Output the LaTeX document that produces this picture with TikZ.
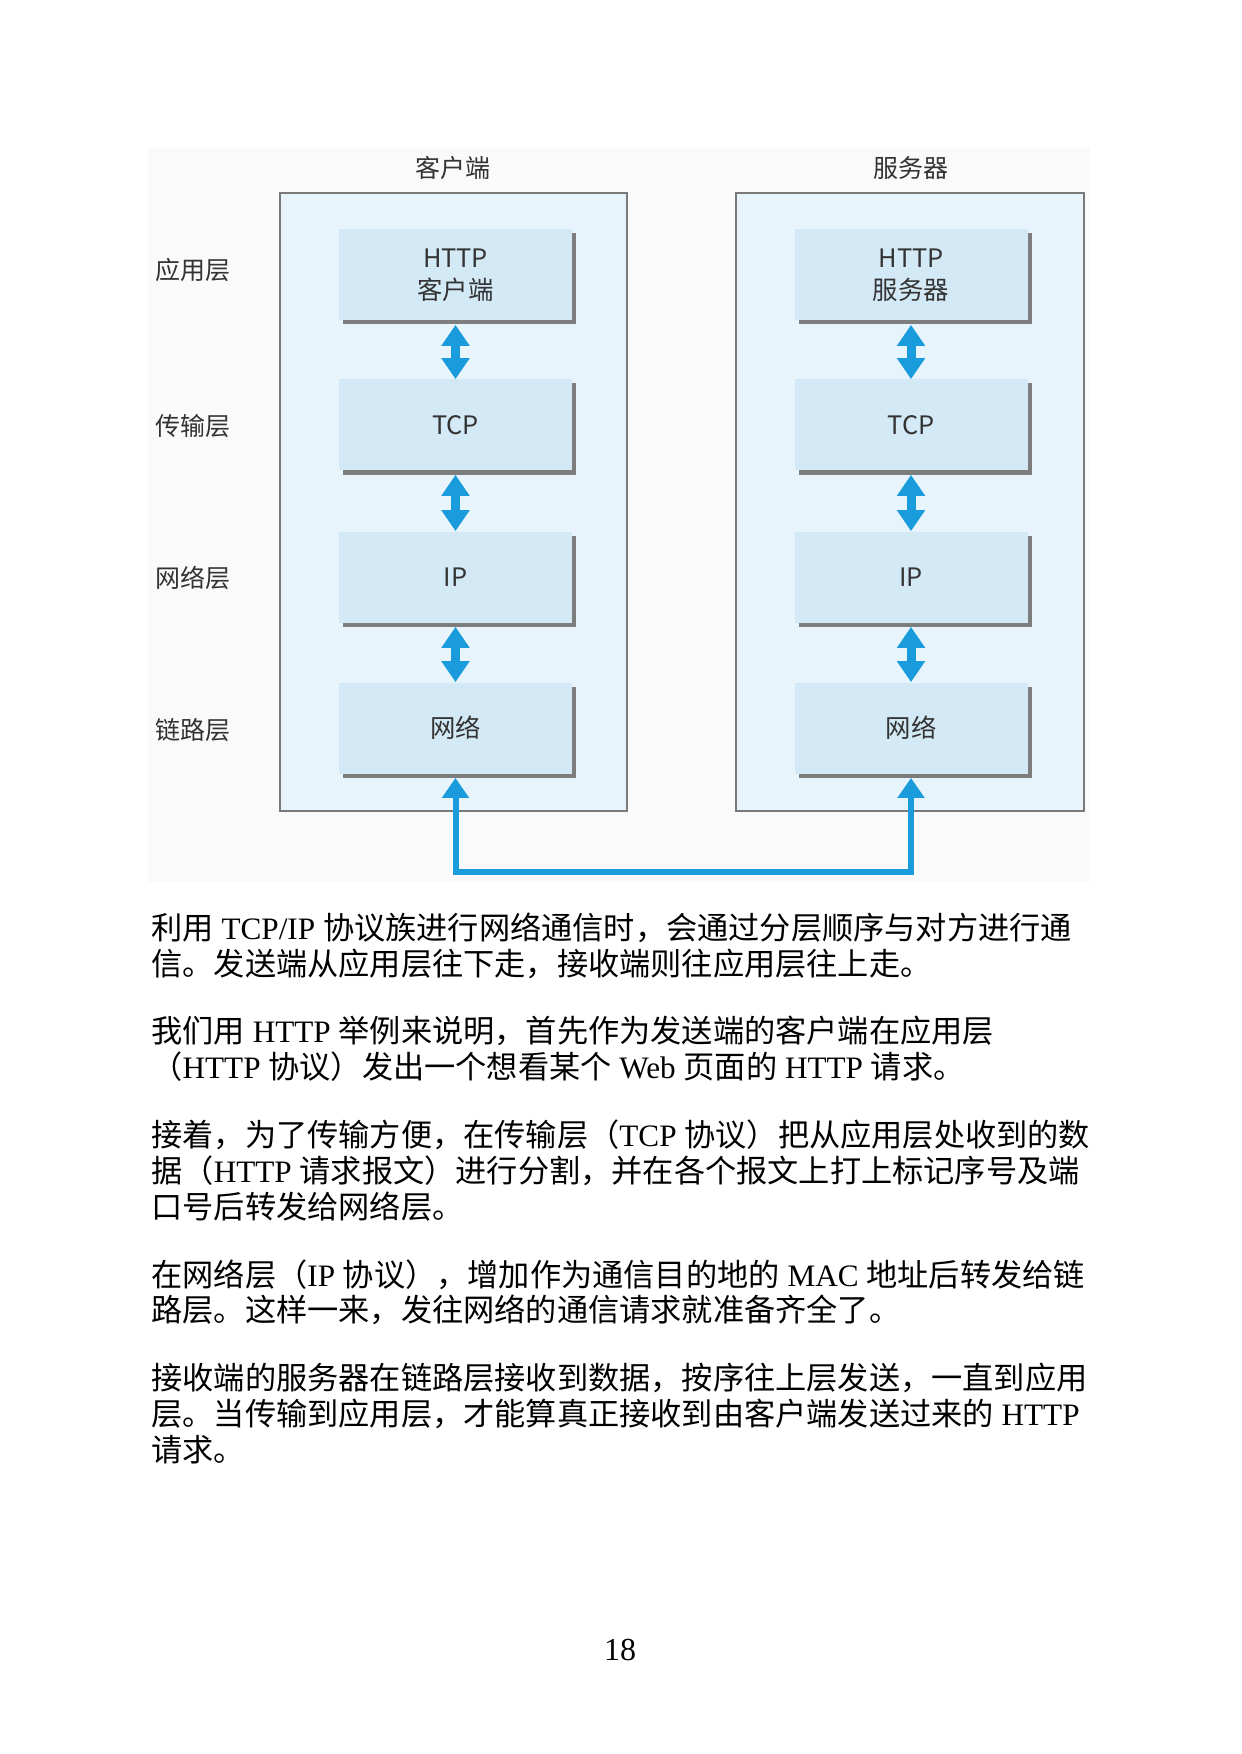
\documentclass[tikz,border=0pt]{standalone}
\usepackage{fontspec}
\setmainfont{Liberation Serif}
\newfontfamily\zhfont{Noto Sans CJK SC}
\newcommand\zh[1]{{\zhfont #1}}
\usetikzlibrary{arrows.meta,shadows}
\definecolor{outerfill}{HTML}{E7F4FB}
\definecolor{innerfill}{HTML}{D3E9F5}
\definecolor{boxline}{HTML}{7A7A7A}
\definecolor{shadowgray}{HTML}{7D7D7D}
\definecolor{arrowblue}{HTML}{1A9BDC}
\definecolor{labeltext}{HTML}{333333}
\definecolor{bgfaint}{HTML}{FAFAFA}
\begin{document}
\begin{tikzpicture}[x=0.5pt,y=-0.5pt,
  outerbox/.style={draw=boxline, line width=0.8pt, fill=outerfill, minimum height=309pt, inner sep=0pt},
  layerbox/.style={fill=innerfill, minimum width=116.5pt, minimum height=45.5pt, inner sep=0pt, align=center,
     font=\zhfont\fontsize{12.7pt}{16pt}\selectfont, text=labeltext,
     general shadow={fill=shadowgray, shadow xshift=2pt, shadow yshift=-2pt}},
  difflabel/.style={font=\zhfont\fontsize{12.5pt}{15pt}\selectfont, text=labeltext, inner sep=0pt},
  dbl/.style={draw=arrowblue, line width=4.5pt, {Triangle[width=13.5pt,length=10.5pt]}-{Triangle[width=13.5pt,length=10.5pt]}},
  link/.style={draw=arrowblue, line width=3pt, line join=miter, {Triangle[width=13pt,length=10pt]}-{Triangle[width=13pt,length=10pt]}},
  bodyline/.style={anchor=base west, inner sep=0pt, font=\fontsize{15.6pt}{18pt}\selectfont},
]
\useasboundingbox (0,0) rectangle (1241,1754);
\fill[white] (0,0) rectangle (1241,1754);
\fill[bgfaint] (148,148) rectangle (1090,882);

% outer boxes
\node[outerbox, minimum width=173.5pt] (cbox) at (453.5,502) {};
\node[outerbox, minimum width=174pt] (sbox) at (910,502) {};

% titles
\node[difflabel] (ctitle) at (453,168) {客户端};
\node[difflabel] (stitle) at (911,168) {服务器};

% layer labels
\node[difflabel] (lapp) at (193,270) {应用层};
\node[difflabel] (ltrans) at (193,426) {传输层};
\node[difflabel] (lnet) at (193,578) {网络层};
\node[difflabel] (llink) at (193,730) {链路层};

% client stack
\node[layerbox] (ca) at (455.5,275) {\raisebox{-1.5pt}{HTTP}\\\raisebox{-1.5pt}{客户端}};
\node[layerbox] (ct) at (455.5,425) {\raisebox{-1.2pt}{TCP}};
\node[layerbox] (ci) at (455.5,577) {\raisebox{-1.2pt}{IP}};
\node[layerbox] (cn) at (455.5,728) {\raisebox{-1.2pt}{网络}};
% server stack
\node[layerbox] (sa) at (911,275) {\raisebox{-1.5pt}{HTTP}\\\raisebox{-1.5pt}{服务器}};
\node[layerbox] (st) at (911,425) {\raisebox{-1.2pt}{TCP}};
\node[layerbox] (si) at (911,577) {\raisebox{-1.2pt}{IP}};
\node[layerbox] (sn) at (911,728) {\raisebox{-1.2pt}{网络}};

% vertical double arrows
\draw[dbl] ([yshift=-2pt]ca.south) -- (ct.north);
\draw[dbl] ([yshift=-2pt]ct.south) -- (ci.north);
\draw[dbl] ([yshift=-2pt]ci.south) -- (cn.north);
\draw[dbl] ([yshift=-2pt]sa.south) -- (st.north);
\draw[dbl] ([yshift=-2pt]st.south) -- (si.north);
\draw[dbl] ([yshift=-2pt]si.south) -- (sn.north);

% physical link
\coordinate (lc) at (455.5,872);
\coordinate (rc) at (911,872);
\draw[link] ([yshift=-2pt]cn.south) -- (lc) -- (rc) -- ([yshift=-2pt]sn.south);

% body text
\node[bodyline] (p1a) at (151,939) {\zh{利用} TCP/IP \zh{协议族进行网络通信时，会通过分层顺序与对方进行通}};
\node[bodyline] (p1b) at (151,975) {\zh{信。发送端从应用层往下走，接收端则往应用层往上走。}};
\node[bodyline] (p2a) at (151,1042) {\zh{我们用} HTTP \zh{举例来说明，首先作为发送端的客户端在应用层}};
\node[bodyline] (p2b) at (151,1078) {\zh{（}HTTP \zh{协议）发出一个想看某个} Web \zh{页面的} HTTP \zh{请求。}};
\node[bodyline] (p3a) at (151,1146) {\zh{接着，为了传输方便，在传输层（}TCP \zh{协议）把从应用层处收到的数}};
\node[bodyline] (p3b) at (151,1182) {\zh{据（}HTTP \zh{请求报文）进行分割，并在各个报文上打上标记序号及端}};
\node[bodyline] (p3c) at (151,1218) {\zh{口号后转发给网络层。}};
\node[bodyline] (p4a) at (151,1286) {\zh{在网络层（}IP \zh{协议），增加作为通信目的地的} MAC \zh{地址后转发给链}};
\node[bodyline] (p4b) at (151,1321) {\zh{路层。这样一来，发往网络的通信请求就准备齐全了。}};
\node[bodyline] (p5a) at (151,1389) {\zh{接收端的服务器在链路层接收到数据，按序往上层发送，一直到应用}};
\node[bodyline] (p5b) at (151,1425) {\zh{层。当传输到应用层，才能算真正接收到由客户端发送过来的} HTTP};
\node[bodyline] (p5c) at (151,1461) {\zh{请求。}};

\node[font=\fontsize{16pt}{18pt}\selectfont, inner sep=0pt] (pageno) at (620,1650) {18};
\end{tikzpicture}
\end{document}
